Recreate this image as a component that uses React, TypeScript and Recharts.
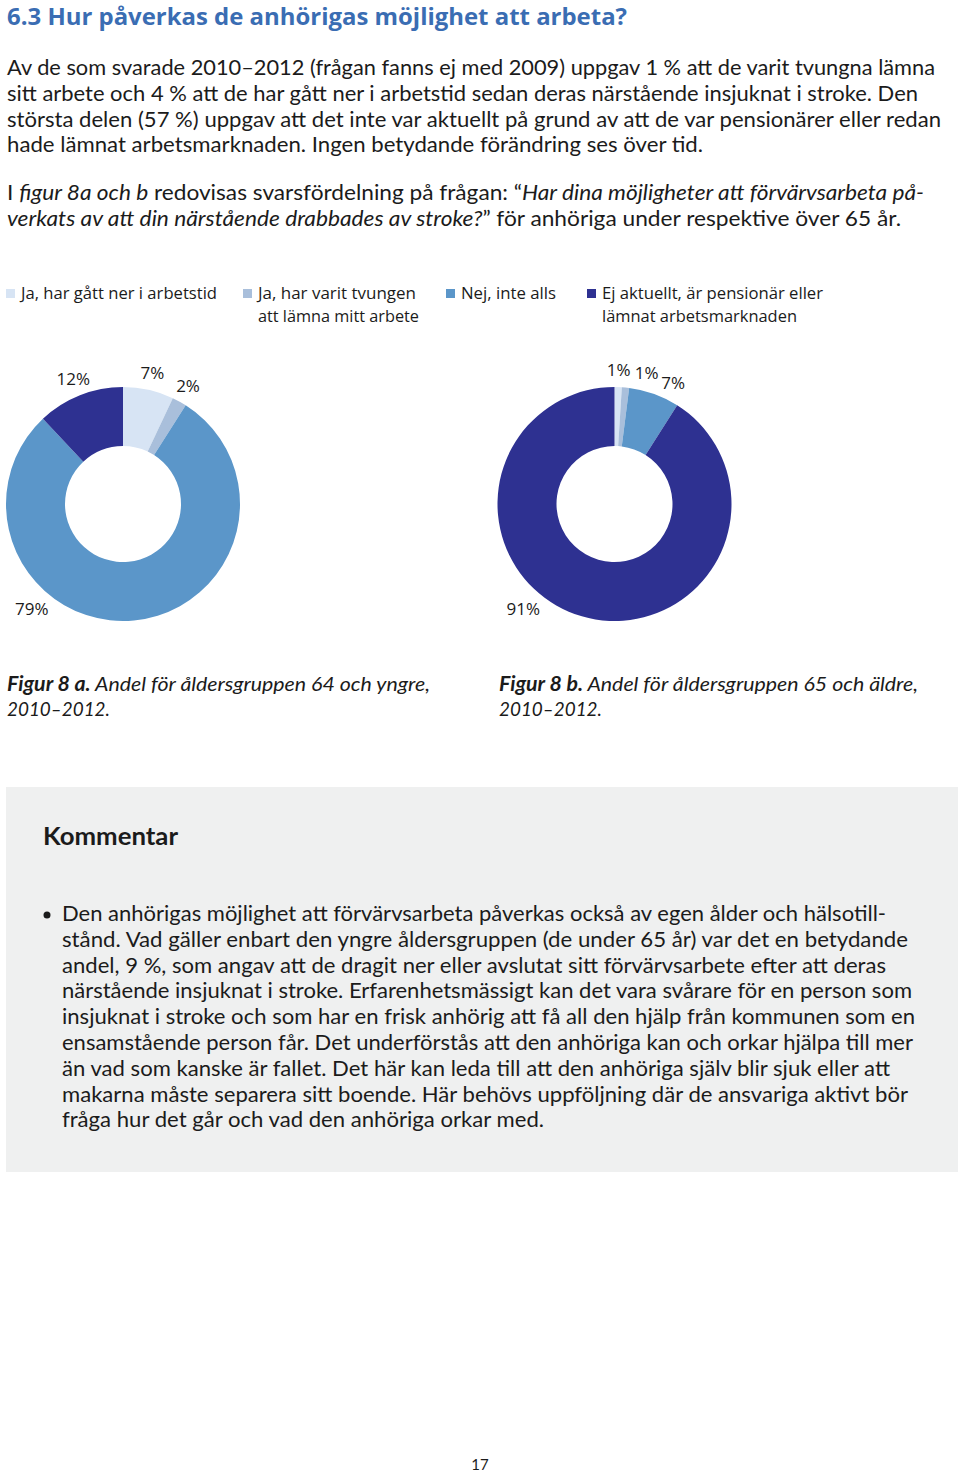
import { Cell, Pie, PieChart } from 'recharts';

const CATEGORIES = [
  'Ja, har gått ner i arbetstid',
  'Ja, har varit tvungen att lämna mitt arbete',
  'Nej, inte alls',
  'Ej aktuellt, är pensionär eller lämnat arbetsmarknaden',
];
const LEGEND_LINES = [
  ['Ja, har gått ner i arbetstid'],
  ['Ja, har varit tvungen', 'att lämna mitt arbete'],
  ['Nej, inte alls'],
  ['Ej aktuellt, är pensionär eller', 'lämnat arbetsmarknaden'],
];
const YOUNGER_VALUES = [7, 2, 79, 12];
const OLDER_VALUES = [1, 1, 7, 91];
const COLORS = ['#d7e4f4', '#a9bfdb', '#5b96c9', '#2e3191'];

const RAD = Math.PI / 180;
const BODY_FONT = 'Lato, "Open Sans", sans-serif';
const CHART_FONT = '"Open Sans", "Noto Sans", sans-serif';
const INK = '#1b1b1b';

// label angles: mid angle of each slice, small neighbours spread apart,
// the dominant slice gets its label at the lower left like in the print
const labelAngles = (values: number[]) => {
  const total = values.reduce((s, v) => s + v, 0);
  let cum = 0;
  let prevSmall: number | null = null;
  return values.map((v) => {
    let a = 90 - ((cum + v / 2) / total) * 360;
    cum += v;
    if (v / total > 0.5) {
      prevSmall = null;
      return -131;
    }
    if (prevSmall !== null && prevSmall - a < 12) a = prevSmall - 12;
    prevSmall = a;
    return a;
  });
};

const makeLabel = (values: number[]) => {
  const angles = labelAngles(values);
  const total = values.reduce((s, v) => s + v, 0);
  return (props: any) => {
    const { cx, cy, outerRadius, index } = props;
    const big = values[index] / total > 0.5;
    const r = outerRadius + (big ? 22 : 18);
    const a = angles[index];
    const x = cx + r * Math.cos(-a * RAD);
    const y = cy + r * Math.sin(-a * RAD);
    return (
      <text
        x={x}
        y={y}
        textAnchor="middle"
        dominantBaseline="central"
        fontSize={17}
        fontFamily={CHART_FONT}
        fill={INK}
      >
        {`${values[index]}%`}
      </text>
    );
  };
};

const Donut = ({ values, left, cx }: { values: number[]; left: number; cx: number }) => {
  const data = values.map((v, i) => ({ name: CATEGORIES[i], value: v }));
  return (
    <div style={{ position: 'absolute', left, top: 355 }}>
      <PieChart width={300} height={290} margin={{ top: 0, right: 0, bottom: 0, left: 0 }}>
        <Pie
          data={data}
          dataKey="value"
          nameKey="name"
          cx={cx}
          cy={149}
          innerRadius={58}
          outerRadius={117}
          startAngle={90}
          endAngle={-270}
          stroke="none"
          label={makeLabel(values)}
          labelLine={false}
          isAnimationActive={false}
        >
          {data.map((d, i) => (
            <Cell key={d.name} fill={COLORS[i]} />
          ))}
        </Pie>
      </PieChart>
    </div>
  );
};

const Line = ({
  x,
  y,
  w,
  size = 21,
  children,
  weight,
  italic,
  font = BODY_FONT,
  fill = INK,
  anchor,
}: any) => (
  <text
    x={x}
    y={y}
    textLength={w}
    lengthAdjust="spacingAndGlyphs"
    fontSize={size}
    fontFamily={font}
    fontWeight={weight}
    fontStyle={italic ? 'italic' : undefined}
    fill={fill}
    textAnchor={anchor}
  >
    {children}
  </text>
);

const BULLET_LINES: [string, number][] = [
  ['Den anhörigas möjlighet att förvärvsarbeta påverkas också av egen ålder och hälsotill-', 886],
  ['stånd. Vad gäller enbart den yngre åldersgruppen (de under 65 år) var det en betydande', 908],
  ['andel, 9 %, som angav att de dragit ner eller avslutat sitt förvärvsarbete efter att deras', 886],
  ['närstående insjuknat i stroke. Erfarenhetsmässigt kan det vara svårare för en person som', 912],
  ['insjuknat i stroke och som har en frisk anhörig att få all den hjälp från kommunen som en', 915],
  ['ensamstående person får. Det underförstås att den anhöriga kan och orkar hjälpa till mer', 913],
  ['än vad som kanske är fallet. Det här kan leda till att den anhöriga själv blir sjuk eller att', 890],
  ['makarna måste separera sitt boende. Här behövs uppföljning där de ansvariga aktivt bör', 908],
  ['fråga hur det går och vad den anhöriga orkar med.', 544],
];

const LEGEND_X = [6, 243, 446, 587];
const LEGEND_W = [
  [196],
  [158, 161],
  [95],
  [221, 195],
];

const App = () => {
  return (
    <div style={{ position: 'absolute', left: 0, top: 0, width: 960, height: 1472, background: '#fff' }}>
      <svg width={960} height={1472} style={{ position: 'absolute', left: 0, top: 0 }}>
        <Line x={7} y={25} w={620} size={24} weight={700} fill="#3a6db3" font='"Open Sans", Lato, sans-serif'>
          6.3 Hur påverkas de anhörigas möjlighet att arbeta?
        </Line>

        <Line x={7} y={75} w={928}>
          Av de som svarade 2010–2012 (frågan fanns ej med 2009) uppgav 1 % att de varit tvungna lämna
        </Line>
        <Line x={7} y={101} w={911}>
          sitt arbete och 4 % att de har gått ner i arbetstid sedan deras närstående insjuknat i stroke. Den
        </Line>
        <Line x={7} y={126.5} w={934}>
          största delen (57 %) uppgav att det inte var aktuellt på grund av att de var pensionärer eller redan
        </Line>
        <Line x={7} y={152} w={696}>
          hade lämnat arbetsmarknaden. Ingen betydande förändring ses över tid.
        </Line>

        <Line x={7} y={200} w={917}>
          I <tspan fontStyle="italic">figur 8a och b</tspan> redovisas svarsfördelning på frågan: “
          <tspan fontStyle="italic">Har dina möjligheter att förvärvsarbeta på-</tspan>
        </Line>
        <Line x={7} y={226} w={894}>
          <tspan fontStyle="italic">verkats av att din närstående drabbades av stroke?</tspan>” för anhöriga under
          respektive över 65 år.
        </Line>

        {LEGEND_LINES.map((lines, i) => (
          <g key={CATEGORIES[i]}>
            <rect x={LEGEND_X[i]} y={289} width={9} height={9} fill={COLORS[i]} />
            {lines.map((t, j) => (
              <Line key={t} x={LEGEND_X[i] + 15} y={299 + j * 23} w={LEGEND_W[i][j]} size={17} font={CHART_FONT}>
                {t}
              </Line>
            ))}
          </g>
        ))}

        <Line x={7} y={691} w={423} italic size={20}>
          <tspan fontWeight={700}>Figur 8 a.</tspan> Andel för åldersgruppen 64 och yngre,
        </Line>
        <Line x={7} y={716} w={103} italic size={20}>
          2010–2012.
        </Line>
        <Line x={499} y={691} w={419} italic size={20}>
          <tspan fontWeight={700}>Figur 8 b.</tspan> Andel för åldersgruppen 65 och äldre,
        </Line>
        <Line x={499} y={716} w={103} italic size={20}>
          2010–2012.
        </Line>

        <rect x={6} y={787} width={952} height={385} fill="#eff0f0" />
        <Line x={43} y={845} w={135} size={25} weight={700}>
          Kommentar
        </Line>
        <circle cx={47} cy={915} r={3.5} fill={INK} />
        {BULLET_LINES.map(([t, end], i) => (
          <Line key={i} x={62} y={921 + i * 25.8} w={end - 62}>
            {t}
          </Line>
        ))}

        <Line x={480} y={1470} size={15} anchor="middle">
          17
        </Line>
      </svg>

      <Donut values={YOUNGER_VALUES} left={0} cx={123} />
      <Donut values={OLDER_VALUES} left={480} cx={134.5} />
    </div>
  );
};

export default App;
